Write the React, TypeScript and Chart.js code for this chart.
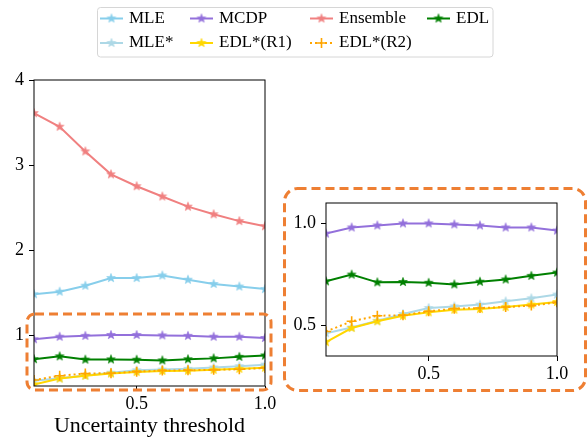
import React, { useEffect, useRef } from 'react';
import { Chart, registerables } from 'chart.js';
Chart.register(...registerables);

// ---- data ----
const thresholds = [0.1, 0.2, 0.3, 0.4, 0.5, 0.6, 0.7, 0.8, 0.9, 1.0];
const mleValues = [1.48, 1.51, 1.58, 1.67, 1.67, 1.70, 1.65, 1.60, 1.57, 1.54];
const mleStarValues = [0.462, 0.49, 0.523, 0.556, 0.585, 0.593, 0.602, 0.618, 0.633, 0.651];
const mcdpValues = [0.95, 0.98, 0.99, 1.0, 1.0, 0.995, 0.99, 0.98, 0.98, 0.965];
const edlR1Values = [0.418, 0.487, 0.52, 0.547, 0.564, 0.577, 0.58, 0.59, 0.602, 0.615];
const ensembleValues = [3.61, 3.45, 3.16, 2.89, 2.75, 2.63, 2.51, 2.42, 2.34, 2.28];
const edlR2Values = [0.47, 0.52, 0.547, 0.55, 0.569, 0.582, 0.585, 0.59, 0.597, 0.613];
const edlValues = [0.716, 0.749, 0.711, 0.713, 0.709, 0.701, 0.714, 0.725, 0.743, 0.759];

const seriesNames = ['MLE', 'MLE*', 'MCDP', 'EDL*(R1)', 'Ensemble', 'EDL*(R2)', 'EDL'];
const seriesValues = [mleValues, mleStarValues, mcdpValues, edlR1Values, ensembleValues, edlR2Values, edlValues];
const seriesColors = ['#87CEEB', '#ADD8E6', '#9370DB', '#FFD700', '#F08080', '#FFA500', '#008000'];
const seriesMarkers = ['star', 'star', 'star', 'star', 'star', 'plus', 'star'];

const mainYTicks = [1, 2, 3, 4];
const mainXTicks = [0.5, 1.0];
const insetYTicks = [0.5, 1.0];
const insetXTicks = [0.5, 1.0];
const xLabel = 'Uncertainty threshold';

const FONT = "'Liberation Serif', 'Times New Roman', serif";
const BOX_COLOR = '#EE7F33';

function makeStar(color: string, r = 4.6): HTMLCanvasElement {
  const size = Math.ceil(2 * r + 2);
  const c = document.createElement('canvas');
  c.width = size;
  c.height = size;
  const ctx = c.getContext('2d')!;
  const cx = size / 2, cy = size / 2;
  const inner = r * 0.42;
  ctx.beginPath();
  for (let i = 0; i < 10; i++) {
    const rad = i % 2 === 0 ? r : inner;
    const a = -Math.PI / 2 + (i * Math.PI) / 5;
    const x = cx + rad * Math.cos(a);
    const y = cy + rad * Math.sin(a);
    if (i === 0) ctx.moveTo(x, y); else ctx.lineTo(x, y);
  }
  ctx.closePath();
  ctx.fillStyle = color;
  ctx.fill();
  ctx.lineWidth = 0.6;
  ctx.strokeStyle = color;
  ctx.stroke();
  return c;
}

function buildDatasets(stars: HTMLCanvasElement[]) {
  return seriesNames.map((name, i) => {
    const isPlus = seriesMarkers[i] === 'plus';
    return {
      label: name,
      data: thresholds.map((x, j) => ({ x, y: seriesValues[i][j] })),
      borderColor: seriesColors[i],
      backgroundColor: seriesColors[i],
      borderWidth: 2,
      borderDash: isPlus ? [2, 3] : [],
      pointStyle: isPlus ? 'cross' : stars[i],
      pointRadius: isPlus ? 5 : 4.6,
      pointBorderWidth: isPlus ? 1.6 : 0,
      pointBorderColor: seriesColors[i],
      pointBackgroundColor: seriesColors[i],
      tension: 0,
      clip: 0,
      order: seriesNames.length - i,
      fill: false,
    };
  });
}

function tickSetter(values: number[]) {
  return (scale: any) => {
    scale.ticks = values.map((v) => ({ value: v }));
  };
}

function roundRectPath(ctx: CanvasRenderingContext2D, x: number, y: number, w: number, h: number, r: number) {
  ctx.beginPath();
  ctx.moveTo(x + r, y);
  ctx.lineTo(x + w - r, y);
  ctx.arcTo(x + w, y, x + w, y + r, r);
  ctx.lineTo(x + w, y + h - r);
  ctx.arcTo(x + w, y + h, x + w - r, y + h, r);
  ctx.lineTo(x + r, y + h);
  ctx.arcTo(x, y + h, x, y + h - r, r);
  ctx.lineTo(x, y + r);
  ctx.arcTo(x, y, x + r, y, r);
  ctx.closePath();
}

const framePlugin = {
  id: 'frame',
  afterDatasetsDraw(chart: any) {
    const { ctx, chartArea } = chart;
    ctx.save();
    ctx.strokeStyle = '#000';
    ctx.lineWidth = 1;
    ctx.strokeRect(chartArea.left, chartArea.top, chartArea.right - chartArea.left, chartArea.bottom - chartArea.top);
    ctx.restore();
  },
};

function makeOverlayPlugin(stars: HTMLCanvasElement[]) {
  return {
    id: 'overlay',
    afterDraw(chart: any) {
      const ctx: CanvasRenderingContext2D = chart.ctx;
      ctx.save();
      // dashed zoom boxes
      ctx.strokeStyle = BOX_COLOR;
      ctx.lineWidth = 3;
      ctx.setLineDash([9, 5]);
      roundRectPath(ctx, 27, 314, 244, 76, 8);
      ctx.stroke();
      roundRectPath(ctx, 284.5, 188.5, 301, 202, 13);
      ctx.stroke();
      ctx.setLineDash([]);

      // legend
      ctx.fillStyle = 'rgba(255,255,255,0.9)';
      ctx.strokeStyle = '#d6d6d6';
      ctx.lineWidth = 1;
      roundRectPath(ctx, 97.5, 7.5, 395.5, 49.5, 3);
      ctx.fill();
      ctx.stroke();

      const colX = [100, 190, 310, 427];
      const rowY = [18.5, 43];
      const lineLen = 23;
      ctx.font = `17px ${FONT}`;
      ctx.textBaseline = 'middle';
      ctx.textAlign = 'left';
      seriesNames.forEach((name, i) => {
        const col = Math.floor(i / 2);
        const row = i % 2;
        const x0 = colX[col];
        const y = rowY[row];
        const color = seriesColors[i];
        ctx.strokeStyle = color;
        ctx.lineWidth = 2;
        ctx.setLineDash(seriesMarkers[i] === 'plus' ? [2, 3] : []);
        ctx.beginPath();
        ctx.moveTo(x0, y);
        ctx.lineTo(x0 + lineLen, y);
        ctx.stroke();
        ctx.setLineDash([]);
        const mx = x0 + lineLen / 2;
        if (seriesMarkers[i] === 'plus') {
          ctx.lineWidth = 1.6;
          ctx.beginPath();
          ctx.moveTo(mx - 5, y);
          ctx.lineTo(mx + 5, y);
          ctx.moveTo(mx, y - 5);
          ctx.lineTo(mx, y + 5);
          ctx.stroke();
        } else {
          const img = stars[i];
          ctx.drawImage(img, mx - img.width / 2, y - img.height / 2);
        }
        ctx.fillStyle = '#000';
        ctx.fillText(name, x0 + 29, y);
      });
      ctx.restore();
    },
  };
}

export default function App() {
  const mainRef = useRef<HTMLCanvasElement>(null);
  const insetRef = useRef<HTMLCanvasElement>(null);

  useEffect(() => {
    Chart.defaults.font.family = FONT;
    Chart.defaults.color = '#000';
    const stars = seriesColors.map((c) => makeStar(c));

    const main = new Chart(mainRef.current!, {
      type: 'line',
      data: { datasets: buildDatasets(stars) as any },
      options: {
        responsive: false,
        animation: false,
        events: [],
        layout: { padding: { left: 0, top: 80, right: 322, bottom: 0 } },
        plugins: { legend: { display: false }, tooltip: { enabled: false } },
        scales: {
          x: {
            type: 'linear',
            min: 0.1,
            max: 1.0,
            afterBuildTicks: tickSetter(mainXTicks),
            afterFit: (s: any) => { s.height = 56; },
            ticks: { callback: (v: any) => Number(v).toFixed(1), font: { size: 18 }, color: '#000', padding: 2, maxRotation: 0, autoSkip: false },
            grid: { drawOnChartArea: false, drawTicks: true, tickLength: 5, color: '#000' },
            border: { display: false },
            title: { display: true, text: xLabel, font: { size: 22 }, color: '#000', padding: { top: 0, bottom: 3 } },
          },
          y: {
            type: 'linear',
            min: 0.4,
            max: 4,
            afterBuildTicks: tickSetter(mainYTicks),
            afterFit: (s: any) => { s.width = 34; },
            ticks: { callback: (v: any) => String(v), font: { size: 18 }, color: '#000', padding: 5, autoSkip: false },
            grid: { drawOnChartArea: false, drawTicks: true, tickLength: 5, color: '#000' },
            border: { display: false },
          },
        },
      },
      plugins: [framePlugin, makeOverlayPlugin(stars)],
    });

    const inset = new Chart(insetRef.current!, {
      type: 'line',
      data: { datasets: buildDatasets(stars) as any },
      options: {
        responsive: false,
        animation: false,
        events: [],
        layout: { padding: { left: 0, top: 23, right: 30, bottom: 0 } },
        plugins: { legend: { display: false }, tooltip: { enabled: false } },
        scales: {
          x: {
            type: 'linear',
            min: 0.1,
            max: 1.0,
            afterBuildTicks: tickSetter(insetXTicks),
            afterFit: (s: any) => { s.height = 44; },
            ticks: { callback: (v: any) => Number(v).toFixed(1), font: { size: 18 }, color: '#000', padding: 2, maxRotation: 0, autoSkip: false },
            grid: { drawOnChartArea: false, drawTicks: true, tickLength: 5, color: '#000' },
            border: { display: false },
          },
          y: {
            type: 'linear',
            min: 0.35,
            max: 1.1,
            afterBuildTicks: tickSetter(insetYTicks),
            afterFit: (s: any) => { s.width = 46; },
            ticks: { callback: (v: any) => Number(v).toFixed(1), font: { size: 18 }, color: '#000', padding: 5, autoSkip: false },
            grid: { drawOnChartArea: false, drawTicks: true, tickLength: 5, color: '#000' },
            border: { display: false },
          },
        },
      },
      plugins: [framePlugin],
    });

    return () => {
      main.destroy();
      inset.destroy();
    };
  }, []);

  return (
    <div style={{ position: 'absolute', left: 0, top: 0, width: 587, height: 442, background: '#fff' }}>
      <canvas ref={mainRef} width={587} height={442} style={{ position: 'absolute', left: 0, top: 0 }} />
      <canvas ref={insetRef} width={307} height={220} style={{ position: 'absolute', left: 280, top: 180 }} />
    </div>
  );
}
